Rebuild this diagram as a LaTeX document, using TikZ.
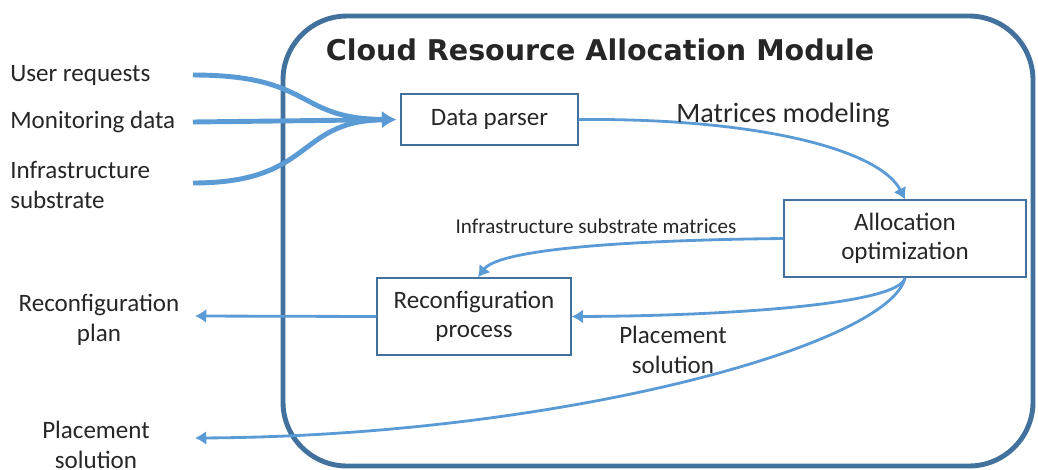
\documentclass[tikz,border=0pt]{standalone}
\usepackage{fontspec}
\setmainfont{Carlito}
\newfontfamily\titlefont{DejaVu Sans}
\usetikzlibrary{arrows.meta}
\definecolor{flowblue}{HTML}{5B9BD5}
\definecolor{frameblue}{HTML}{41719C}

\begin{document}
\begin{tikzpicture}[x=0.025cm,y=-0.025cm]
			\tikzstyle{every node}+=[inner sep=0pt, text=black!85, font=\fontsize{17.8}{21}\selectfont]
			\tikzstyle{procbox}=[draw=frameblue, line width=1pt, align=center]
			\tikzstyle{feed}=[flowblue, line width=3.5pt, -{Latex[length=10pt,width=12pt]}, shorten >=3pt]
			\tikzstyle{flow}=[flowblue, line width=2pt, -{Latex[length=8pt,width=10pt]}]
			\useasboundingbox (0,0) rectangle (1038,469);
			% module frame
			\draw [frameblue, line width=3.5pt, rounded corners=1.6cm] (283,16) rectangle (1033,466);
			\node (title) at (600,50) {\titlefont\bfseries\fontsize{20.3}{24}\selectfont Cloud Resource Allocation Module};
			% processing blocks
			\node [procbox, minimum width=4.425cm, minimum height=1.275cm] (parser) at (489.5,119.5) {Data parser};
			\node [procbox, minimum width=6.05cm, minimum height=1.925cm] (alloc) at (905,238.5) {Allocation\\optimization};
			\node [procbox, minimum width=4.85cm, minimum height=1.925cm] (reconf) at (474,316.5) {Reconfiguration\\process};
			% inputs
			\node [anchor=west] (userreq) at (10,75) {User requests};
			\node [anchor=west] (monitor) at (10,122) {Monitoring data};
			\node [anchor=west, align=left] (infra) at (10,185) {Infrastructure\\substrate};
			\coordinate (in1) at (193,75);
			\coordinate (in2) at (193,122);
			\coordinate (in3) at (193,183);
			\draw [feed] (in1) .. controls (315,75) and (295,119) .. (parser.west);
			\draw [feed] (in2) -- (parser.west);
			\draw [feed] (in3) .. controls (315,183) and (295,121) .. (parser.west);
			% outputs
			\node (replan) at (99,320) [align=center] {Reconfiguration\\plan};
			\node (placeout) at (96,445) [align=center] {Placement\\solution};
			\coordinate (out1) at (195,316);
			\coordinate (out2) at (195,438);
			% internal flows
			\draw [flow] (parser.east) .. controls (760,118) and (880,150) .. (alloc.north);
			\node (matmod) at (783,115) {\fontsize{20}{24}\selectfont Matrices modeling};
			\draw [flow] (alloc.west) .. controls (640,240) and (500,248) .. ([xshift=0.1cm]reconf.north);
			\node (submat) at (596,226) {\fontsize{15}{18}\selectfont Infrastructure substrate matrices};
			\draw [flow] (alloc.south) .. controls (900,305) and (720,316) .. (reconf.east);
			\node (placein) at (673,350) [align=center] {Placement\\solution};
			\draw [flow] (alloc.south) .. controls (890,345) and (560,436) .. (out2);
			\draw [flow] (reconf.west) -- (out1);
\end{tikzpicture}
\end{document}
